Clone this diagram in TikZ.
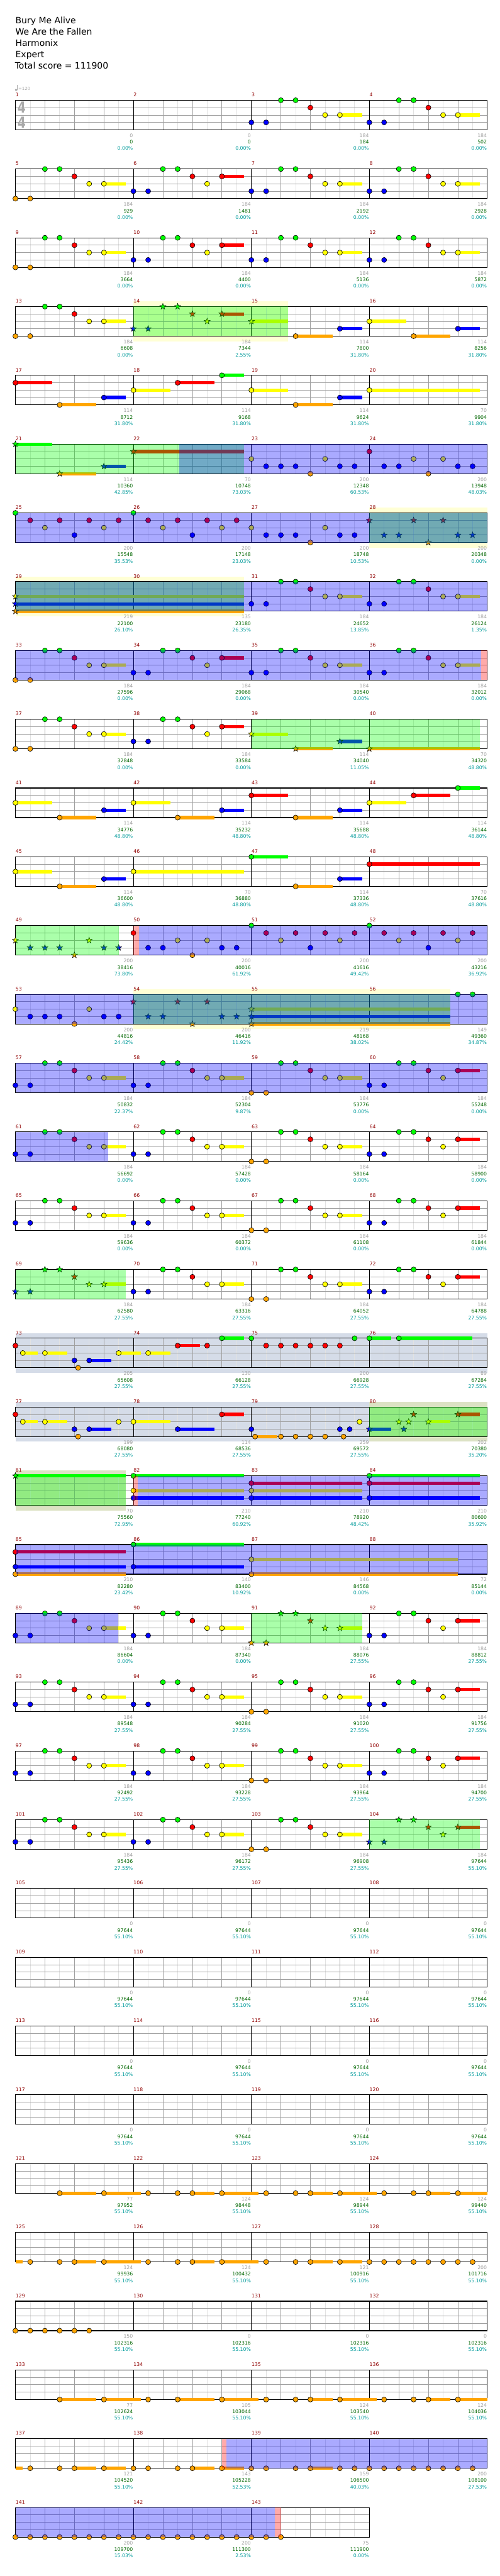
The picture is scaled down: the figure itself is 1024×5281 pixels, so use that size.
\documentclass[tikz,border=0pt]{standalone}
\usepackage{fontspec}
\setmainfont{DejaVu Sans}
\definecolor{cG}{HTML}{00FF00}
\definecolor{cR}{HTML}{FF0000}
\definecolor{cY}{HTML}{FFFF00}
\definecolor{cB}{HTML}{0000FF}
\definecolor{cO}{HTML}{FFA500}
\colorlet{lane0}{cG}\colorlet{lane1}{cR}\colorlet{lane2}{cY}\colorlet{lane3}{cB}\colorlet{lane4}{cO}
\definecolor{mnumc}{HTML}{900000}
\definecolor{lgray}{HTML}{A0A0A0}
\definecolor{lgreen}{HTML}{006600}
\definecolor{lteal}{HTML}{009B9B}
\definecolor{bandY}{HTML}{FFFFD5}
\definecolor{bandS}{HTML}{D5DCE8}
\definecolor{bandSY}{HTML}{DCE2C4}
\definecolor{gridA}{HTML}{A0A0A0}
\definecolor{gridB}{HTML}{E2E2E2}
\definecolor{sigc}{HTML}{AAAAAA}

\def\PA{0/3/0,2/3/0,4/0/0,6/0/0,8/1/0,10/2/0,12/2/3}
\def\PQ{0/4/0,2/4/0,4/0/0,6/0/0,8/1/0,10/2/0,12/2/3}
\def\PR{0/3/0,2/3/0,4/0/0,6/0/0,8/1/0,10/2/0,12/1/3}
\def\PU{0/2/0,2/3/0,4/3/0,6/3/0,8/4/0,10/2/0,12/3/0,14/3/0}
\def\PV{0/1/0,2/3/0,4/3/0,6/2/0,8/4/0,10/2/0,12/3/0,14/3/0}
\def\PW{0/1/0,2/3/0,4/3/0,6/1/0,8/4/0,10/1/0,12/3/0,14/3/0}
\def\PX{0/0/0,2/1/0,4/2/0,6/1/0,8/3/0,10/1/0,12/2/0,14/1/0}
\def\PS{0/2/5,6/4/5,12/3/3}
\def\PO{2/4/0,6/4/0,8/4/3,12/4/5}
\def\PE{0/4/0,2/4/0,4/4/0,6/4/0,8/4/0,10/4/0,12/4/0,14/4/0}

\newcommand\grid[2]{%
  \pgfmathsetmacro\gty{205.5+#1*141}%
  \pgfmathsetmacro\gtb{\gty+60.6}%
  \pgfmathsetmacro\gxr{31.6+#2*241.86}%
  \pgfmathtruncatemacro\gnb{#2*8}%
  \foreach \gi in {1,...,\gnb}{%
    \pgfmathsetmacro\gxv{31.6+\gi*30.2325}%
    \pgfmathtruncatemacro\gk{mod(\gi,2)}%
    \ifnum\gk=1 \draw[gridB,line width=1] (\gxv,\gty) -- (\gxv,\gtb);\fi}%
  \foreach \gi in {1,...,\gnb}{%
    \pgfmathsetmacro\gxv{31.6+\gi*30.2325}%
    \pgfmathtruncatemacro\gk{mod(\gi,8)}%
    \pgfmathtruncatemacro\gj{mod(\gi,2)}%
    \ifnum\gj=0 \ifnum\gk>0 \draw[gridA,line width=1] (\gxv,\gty) -- (\gxv,\gtb);\fi\fi}%
  \foreach \gk in {1,2,3}{\draw[gridA,line width=1] (31.6,{\gty+\gk*15.15}) -- (\gxr,{\gty+\gk*15.15});}%
  \foreach \gi in {1,...,#2}{%
    \pgfmathsetmacro\gxv{31.6+\gi*241.86}%
    \draw[black,line width=1] (\gxv,\gty) -- (\gxv,\gtb);}%
  \draw[black,line width=1.4] (31.6,\gty) rectangle (\gxr,\gtb);}

\newcommand\starhead[3]{%
  \filldraw[fill=#3,draw=black,line width=0.7,shift={(#1,#2)}] (270:6.5) -- (306:2.7) -- (342:6.5) -- (18:2.7) -- (54:6.5) -- (90:2.7) -- (126:6.5) -- (162:2.7) -- (198:6.5) -- (234:2.7) -- cycle;}

\newcommand\ms[4]{%
  \foreach \np/\nl/\ns in #4 {%
    \pgfmathsetmacro\nxx{31.6+(#2*16+\np)*15.116}%
    \pgfmathsetmacro\nyy{205.5+#1*141+\nl*15.15}%
    \pgfmathsetmacro\nxe{\nxx+\ns*15.116}%
    \ifdim\ns pt>0pt \fill[fill=lane\nl] (\nxx,\nyy-3.4) rectangle (\nxe,\nyy+3.4);\fi
    \ifx#3s\starhead{\nxx}{\nyy}{lane\nl}\else
      \filldraw[fill=lane\nl,draw=black,line width=0.8] (\nxx,\nyy) circle (5.2);\fi}}

\newcommand\band[4]{%
  \pgfmathsetmacro\bty{205.5+#1*141}%
  \fill[fill=#4] ({31.6+#2*15.116},\bty-10.5) rectangle ({31.6+#3*15.116},\bty+71.1);}
\newcommand\ov[4]{%
  \pgfmathsetmacro\oty{205.5+#1*141}%
  \fill[fill=#4,fill opacity=0.3333] ({31.6+#2*15.116},\oty) rectangle ({31.6+#3*15.116},\oty+60.6);}
\newcommand\susbar[4]{%
  \pgfmathsetmacro\syy{205.5+#1*141+#3*15.15}%
  \fill[fill=lane#3] ({31.6+#2*15.116},\syy-3.4) rectangle ({31.6+(#2+#4)*15.116},\syy+3.4);}

\tikzset{
  ttl/.style={anchor=base west,inner sep=0,font=\fontsize{18}{22}\selectfont},
  mnum/.style={anchor=base west,inner sep=0,text=mnumc,font=\fontsize{10}{12}\selectfont},
  lab/.style={anchor=base east,inner sep=0,font=\fontsize{10}{12}\selectfont}
}

\begin{document}
\begin{tikzpicture}[x=1pt,y=-1pt]
\useasboundingbox (0,0) rectangle (1024,5281);
\fill[white] (0,0) rectangle (1024,5281);

\node[ttl] (t1) at (31.6,48.3) {Bury Me Alive};
\node[ttl] (t2) at (31.6,71.7) {We Are the Fallen};
\node[ttl] (t3) at (31.6,95) {Harmonix};
\node[ttl] (t4) at (31.6,118.3) {Expert};
\node[ttl] (t5) at (30.5,141.7) {Total score = 111900};

% tempo
\fill[sigc] (33.2,184.3) ellipse (2.6 and 2.1);
\draw[sigc,line width=0.8] (35.5,184) -- (35.5,173.5);
\node[anchor=base west,inner sep=0,text=sigc,font=\fontsize{9}{10}\selectfont] (tempo) at (37.2,185.5) {=120};

% row 0
\grid{0}{4}
\node[text=sigc,inner sep=0,font=\fontsize{31}{31}\selectfont\bfseries] (ts1) at (44.5,220.6) {\scalebox{0.78}[1]{4}};
\node[text=sigc,inner sep=0,font=\fontsize{31}{31}\selectfont\bfseries] (ts2) at (44.5,250.8) {\scalebox{0.78}[1]{4}};
\ms{0}{2}{c}{\PA}\ms{0}{3}{c}{\PA}
% row 1
\grid{1}{4}
\ms{1}{0}{c}{\PQ}\ms{1}{1}{c}{\PR}\ms{1}{2}{c}{\PA}\ms{1}{3}{c}{\PA}
% row 2
\grid{2}{4}
\ms{2}{0}{c}{\PQ}\ms{2}{1}{c}{\PR}\ms{2}{2}{c}{\PA}\ms{2}{3}{c}{\PA}
% row 3
\band{3}{16}{37}{bandY}
\grid{3}{4}
\ms{3}{0}{c}{\PQ}\ms{3}{1}{s}{\PR}\ms{3}{2}{s}{{0/2/5}}\ms{3}{2}{c}{{6/4/5,12/3/3}}\ms{3}{3}{c}{\PS}
\ov{3}{16}{37}{cG}
% row 4
\grid{4}{4}
\ms{4}{0}{c}{{0/1/5,6/4/5,12/3/3}}
\ms{4}{1}{c}{{0/2/5,6/1/5,12/0/3}}
\ms{4}{2}{c}{\PS}
\ms{4}{3}{c}{{0/2/15}}
% row 5
\grid{5}{4}
\ms{5}{0}{s}{{0/0/5,6/4/5,12/3/3}}
\ms{5}{1}{s}{{0/1/15}}
\ms{5}{2}{c}{\PU}
\ms{5}{3}{c}{\PV}
\ov{5}{0}{31}{cG}\ov{5}{22.25}{64}{cB}
% row 6
\band{6}{48}{64}{bandY}
\grid{6}{4}
\ms{6}{0}{c}{\PX}\ms{6}{1}{c}{\PX}\ms{6}{2}{c}{\PU}\ms{6}{3}{s}{\PW}
\ov{6}{48}{64}{cG}\ov{6}{0}{64}{cB}
% row 7
\band{7}{0}{31}{bandY}
\grid{7}{4}
\ms{7}{0}{s}{{0/2/31,0/3/31,0/4/31}}
\ms{7}{2}{c}{\PA}\ms{7}{3}{c}{\PA}
\ov{7}{0}{31}{cG}\ov{7}{0}{64}{cB}
% row 8
\grid{8}{4}
\ms{8}{0}{c}{\PQ}\ms{8}{1}{c}{\PR}\ms{8}{2}{c}{\PA}\ms{8}{3}{c}{\PA}
\ov{8}{0}{63.2}{cB}\ov{8}{63.2}{64}{cR}
% row 9
\grid{9}{4}
\ms{9}{0}{c}{\PQ}\ms{9}{1}{c}{\PR}\ms{9}{2}{s}{\PS}\ms{9}{3}{s}{{0/4/15}}
\ov{9}{32}{63}{cG}
% row 10
\grid{10}{4}
\ms{10}{0}{c}{\PS}\ms{10}{1}{c}{\PS}\ms{10}{2}{c}{{0/1/5,6/4/5,12/3/3}}\ms{10}{3}{c}{{0/2/5,6/1/5,12/0/3}}
% row 11
\grid{11}{4}
\ms{11}{0}{c}{\PS}\ms{11}{1}{c}{{0/2/15}}\ms{11}{2}{c}{{0/0/5,6/4/5,12/3/3}}\ms{11}{3}{c}{{0/1/15}}
% row 12
\grid{12}{4}
\ms{12}{0}{s}{\PU}\ms{12}{1}{c}{\PV}\ms{12}{2}{c}{\PX}\ms{12}{3}{c}{\PX}
\ov{12}{0}{14}{cG}\ov{12}{16}{16.75}{cR}\ov{12}{16.75}{64}{cB}
% row 13
\band{13}{16}{59}{bandY}
\grid{13}{4}
\ms{13}{0}{c}{\PU}\ms{13}{1}{s}{\PW}\ms{13}{2}{s}{{0/2/27,0/3/27,0/4/27}}\ms{13}{3}{c}{{12/0/0,14/0/0}}
\ov{13}{16}{59}{cG}\ov{13}{0}{64}{cB}
% row 14
\grid{14}{4}
\ms{14}{0}{c}{\PA}\ms{14}{1}{c}{\PA}\ms{14}{2}{c}{\PQ}\ms{14}{3}{c}{\PR}
\ov{14}{0}{64}{cB}
% row 15
\grid{15}{4}
\ms{15}{0}{c}{\PA}\ms{15}{1}{c}{\PA}\ms{15}{2}{c}{\PQ}\ms{15}{3}{c}{\PR}
\ov{15}{0}{12.54}{cB}
% row 16
\grid{16}{4}
\ms{16}{0}{c}{\PA}\ms{16}{1}{c}{\PA}\ms{16}{2}{c}{\PQ}\ms{16}{3}{c}{\PR}
% row 17
\grid{17}{4}
\ms{17}{0}{s}{\PA}\ms{17}{1}{c}{\PA}\ms{17}{2}{c}{\PQ}\ms{17}{3}{c}{\PR}
\ov{17}{0}{15}{cG}
% row 18
\band{18}{0}{64}{bandS}
\grid{18}{4}
\ms{18}{0}{c}{{0/1/0,1/2/2,4/2/3,8/3/0,8.5/4/0,10/3/3,14/2/3}}
\ms{18}{1}{c}{{2/2/3,6/1/3,10/1/0,12/0/3}}
\ms{18}{2}{c}{{0/0/0,2/1/0,4/1/0,6/1/0,8/1/0,10/1/0,12/1/0,14/0/0}}
\ms{18}{3}{c}{{0/0/3,4/0/10}}
% row 19
\band{19}{0}{48}{bandS}\band{19}{48}{64}{bandSY}
\grid{19}{4}
\ms{19}{0}{c}{{0/1/0,1/2/2,4/2/3,8/3/0,8.5/4/0,10/3/3,14/2/0}}
\ms{19}{1}{c}{{0/2/5,6/3/5,12/1/3}}
\ms{19}{2}{c}{{0/3/0,0.5/4/3,4/4/0,6/4/0,8/4/0,10/4/0,12/3/0,12.5/4/0,13.33/3/0,14.67/2/0}}
\ms{19}{3}{s}{{0/3/3,4/2/0,4.67/3/0,5.33/2/0,6/1/0,8/2/3,12/1/3}}
\ov{19}{48}{64}{cG}
% row 20
\band{20}{0}{15}{bandSY}
\grid{20}{4}
\ms{20}{0}{s}{{0/0/15}}
\ms{20}{1}{c}{{0/0/15,0/2/15,0/3/15}}
\ms{20}{2}{c}{{0/1/15,0/2/15,0/3/15}}
\ms{20}{3}{c}{{0/0/15,0/1/15,0/3/15}}
\ov{20}{0}{15}{cG}\ov{20}{16}{16.55}{cR}\ov{20}{16.55}{64}{cB}
% row 21
\grid{21}{4}
\ms{21}{0}{c}{{0/1/15,0/3/15,0/4/15}}
\ms{21}{1}{c}{{0/0/15,0/3/15}}
\ms{21}{2}{c}{{0/2/28,0/4/28}}
\ov{21}{0}{64}{cB}
% row 22
\grid{22}{4}
\ms{22}{0}{c}{\PA}\ms{22}{1}{c}{\PA}\ms{22}{2}{s}{\PQ}\ms{22}{3}{c}{\PR}
\ov{22}{0}{13.93}{cB}\ov{22}{32}{47}{cG}
% row 23
\grid{23}{4}
\ms{23}{0}{c}{\PA}\ms{23}{1}{c}{\PA}\ms{23}{2}{c}{\PQ}\ms{23}{3}{c}{\PR}
% row 24
\grid{24}{4}
\ms{24}{0}{c}{\PA}\ms{24}{1}{c}{\PA}\ms{24}{2}{c}{\PQ}\ms{24}{3}{c}{\PR}
% row 25
\grid{25}{4}
\ms{25}{0}{c}{\PA}\ms{25}{1}{c}{\PA}\ms{25}{2}{c}{\PQ}\ms{25}{3}{s}{\PR}
\ov{25}{48}{63}{cG}
% rows 26-29
\grid{26}{4}\grid{27}{4}\grid{28}{4}\grid{29}{4}
% row 30
\grid{30}{4}
\ms{30}{0}{c}{{6/4/5,12/4/5}}\ms{30}{1}{c}{\PO}\ms{30}{2}{c}{\PO}\ms{30}{3}{c}{{2/4/0,6/4/0,8/4/3,12/4/4}}
% row 31
\grid{31}{4}
\susbar{31}{0}{4}{1}
\ms{31}{0}{c}{\PO}\ms{31}{1}{c}{\PO}\ms{31}{2}{c}{{2/4/0,6/4/0,8/4/3,12/4/3}}\ms{31}{3}{c}{\PE}
% row 32
\grid{32}{4}
\ms{32}{0}{c}{{0/4/0,2/4/0,4/4/0,6/4/0,8/4/0,10/4/0}}
% row 33
\grid{33}{4}
\ms{33}{0}{c}{{6/4/5,12/4/5}}\ms{33}{1}{c}{{2/4/0,6/4/5,12/4/5}}\ms{33}{2}{c}{\PO}\ms{33}{3}{c}{{2/4/0,6/4/0,8/4/3,12/4/4}}
% row 34
\grid{34}{4}
\susbar{34}{0}{4}{1}
\ms{34}{0}{c}{{2/4/0,6/4/0,8/4/3,12/4/3}}
\ms{34}{1}{c}{{0/4/0,2/4/0,6/4/0,8/4/3,12/4/3}}
\ms{34}{2}{c}{{0/4/0,2/4/0,6/4/0,8/4/3,12/4/0,14/4/0}}
\ms{34}{3}{c}{\PE}
\ov{34}{28}{28.65}{cR}\ov{34}{28.65}{64}{cB}
% row 35
\grid{35}{3}
\ms{35}{0}{c}{\PE}\ms{35}{1}{c}{\PE}\ms{35}{2}{c}{{0/4/0,2/4/0,4/4/0}}
\ov{35}{0}{35.2}{cB}\ov{35}{35.2}{36}{cR}

% measure numbers
\foreach \m in {1,...,143}{%
  \pgfmathtruncatemacro\rr{(\m-1)/4}%
  \pgfmathtruncatemacro\cc{\m-1-4*\rr}%
  \node[mnum] (n\m) at ({31.9+\cc*241.86},{205.5+\rr*141-7.5}) {\m};}

% labels
\foreach \m/\qa/\qb/\qc in {1/0/0/0.00,2/0/0/0.00,3/184/184/0.00,4/184/502/0.00,
5/184/929/0.00,6/184/1481/0.00,7/184/2192/0.00,8/184/2928/0.00,
9/184/3664/0.00,10/184/4400/0.00,11/184/5136/0.00,12/184/5872/0.00,
13/184/6608/0.00,14/184/7344/2.55,15/114/7800/31.80,16/114/8256/31.80,
17/114/8712/31.80,18/114/9168/31.80,19/114/9624/31.80,20/70/9904/31.80,
21/114/10360/42.85,22/70/10748/73.03,23/200/12348/60.53,24/200/13948/48.03,
25/200/15548/35.53,26/200/17148/23.03,27/200/18748/10.53,28/200/20348/0.00,
29/219/22100/26.10,30/135/23180/26.35,31/184/24652/13.85,32/184/26124/1.35,
33/184/27596/0.00,34/184/29068/0.00,35/184/30540/0.00,36/184/32012/0.00,
37/184/32848/0.00,38/184/33584/0.00,39/114/34040/11.05,40/70/34320/48.80,
41/114/34776/48.80,42/114/35232/48.80,43/114/35688/48.80,44/114/36144/48.80,
45/114/36600/48.80,46/70/36880/48.80,47/114/37336/48.80,48/70/37616/48.80,
49/200/38416/73.80,50/200/40016/61.92,51/200/41616/49.42,52/200/43216/36.92,
53/200/44816/24.42,54/200/46416/11.92,55/219/48168/38.02,56/149/49360/34.87,
57/184/50832/22.37,58/184/52304/9.87,59/184/53776/0.00,60/184/55248/0.00,
61/184/56692/0.00,62/184/57428/0.00,63/184/58164/0.00,64/184/58900/0.00,
65/184/59636/0.00,66/184/60372/0.00,67/184/61108/0.00,68/184/61844/0.00,
69/184/62580/27.55,70/184/63316/27.55,71/184/64052/27.55,72/184/64788/27.55,
73/205/65608/27.55,74/130/66128/27.55,75/200/66928/27.55,76/89/67284/27.55,
77/199/68080/27.55,78/114/68536/27.55,79/259/69572/27.55,80/202/70380/35.20,
81/70/75560/72.95,82/210/77240/60.92,83/210/78920/48.42,84/210/80600/35.92,
85/210/82280/23.42,86/140/83400/10.92,87/146/84568/0.00,88/72/85144/0.00,
89/184/86604/0.00,90/184/87340/0.00,91/184/88076/27.55,92/184/88812/27.55,
93/184/89548/27.55,94/184/90284/27.55,95/184/91020/27.55,96/184/91756/27.55,
97/184/92492/27.55,98/184/93228/27.55,99/184/93964/27.55,100/184/94700/27.55,
101/184/95436/27.55,102/184/96172/27.55,103/184/96908/27.55,104/184/97644/55.10,
105/0/97644/55.10,106/0/97644/55.10,107/0/97644/55.10,108/0/97644/55.10,
109/0/97644/55.10,110/0/97644/55.10,111/0/97644/55.10,112/0/97644/55.10,
113/0/97644/55.10,114/0/97644/55.10,115/0/97644/55.10,116/0/97644/55.10,
117/0/97644/55.10,118/0/97644/55.10,119/0/97644/55.10,120/0/97644/55.10,
121/77/97952/55.10,122/124/98448/55.10,123/124/98944/55.10,124/124/99440/55.10,
125/124/99936/55.10,126/124/100432/55.10,127/121/100916/55.10,128/200/101716/55.10,
129/150/102316/55.10,130/0/102316/55.10,131/0/102316/55.10,132/0/102316/55.10,
133/77/102624/55.10,134/105/103044/55.10,135/124/103540/55.10,136/124/104036/55.10,
137/121/104520/55.10,138/143/105228/52.53,139/159/106500/40.03,140/200/108100/27.53,
141/200/109700/15.03,142/200/111300/2.53,143/75/111900/0.00}{%
  \pgfmathtruncatemacro\rr{(\m-1)/4}%
  \pgfmathtruncatemacro\cc{\m-1-4*\rr}%
  \pgfmathsetmacro\xl{31.6+(\cc+1)*241.86-0.8}%
  \pgfmathsetmacro\yl{205.5+\rr*141}%
  \node[lab,text=lgray] (a\m) at (\xl,\yl+76) {\qa};
  \node[lab,text=lgreen] (b\m) at (\xl,\yl+89.3) {\qb};
  \node[lab,text=lteal] (c\m) at (\xl,\yl+102.6) {\qc\%};}
\end{tikzpicture}
\end{document}
